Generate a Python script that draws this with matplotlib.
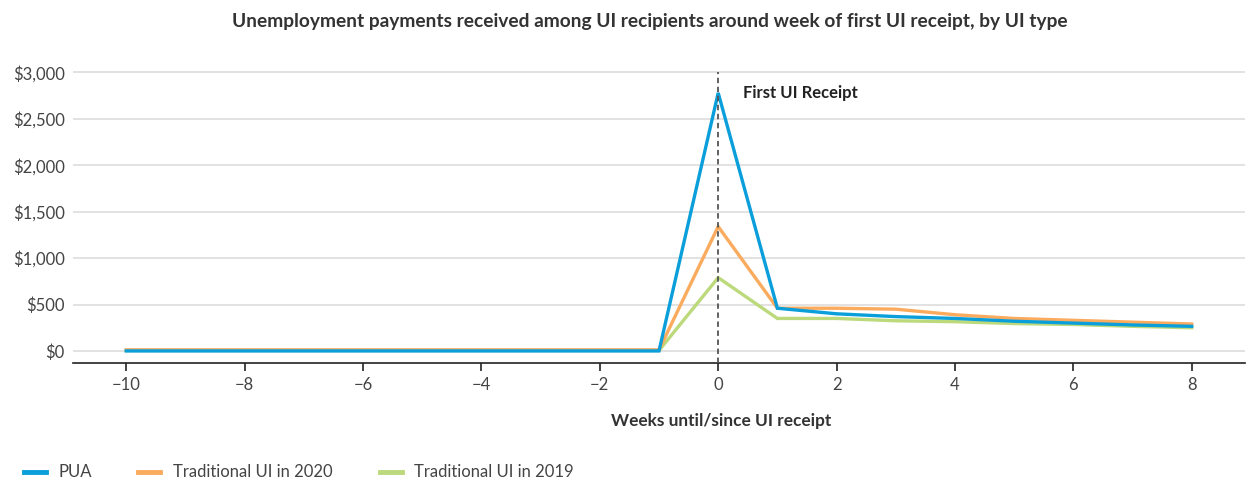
import numpy as np
import matplotlib
matplotlib.use('Agg')
import matplotlib.pyplot as plt
from matplotlib.lines import Line2D

plt.rcParams['font.family'] = ['Lato', 'DejaVu Sans']

# data
weeks = list(range(-10, 9))
pua = [0, 0, 0, 0, 0, 0, 0, 0, 0, 0, 2780, 460, 400, 370, 350, 320, 300, 280, 265]
trad_2020 = [12, 12, 12, 12, 12, 12, 12, 12, 12, 12, 1340, 460, 460, 450, 390, 350, 330, 310, 290]
trad_2019 = [5, 5, 5, 5, 5, 5, 5, 5, 5, 5, 790, 350, 350, 325, 315, 295, 285, 265, 250]
series_names = ['PUA', 'Traditional UI in 2020', 'Traditional UI in 2019']
colors = ['#0a9fda', '#fbab5e', '#bcd97c']
yticks = [0, 500, 1000, 1500, 2000, 2500, 3000]
xticks = list(range(-10, 9, 2))

fig = plt.figure(figsize=(12.48, 4.83), dpi=100)
ax = fig.add_axes([73 / 1248, 1 - 363 / 483, (1245 - 73) / 1248, (363 - 66) / 483])

# PUA drawn last so it sits on top
for vals, c in zip([trad_2019, trad_2020, pua], [colors[2], colors[1], colors[0]]):
    ax.plot(weeks, vals, color=c, linewidth=2.4, solid_joinstyle='miter', zorder=3)

ax.axvline(0, color='#555555', linestyle=(0, (3, 2)), linewidth=1.3, ymax=(3000 + 130) / (3070 + 130), zorder=4)
ax.text(0.42, 2775, 'First UI Receipt', fontsize=12, fontweight='bold', color='#222222', va='center')

ax.set_xlim(-10.9, 8.9)
ax.set_ylim(-130, 3070)
ax.set_yticks(yticks)
ax.set_yticklabels(['${:,}'.format(v) for v in yticks])
ax.set_xticks(xticks)
ax.set_xticklabels([str(x).replace('-', '\u2212') for x in xticks])
ax.grid(axis='y', color='#dddddd', linewidth=1.2)
ax.set_axisbelow(True)
for s in ['top', 'right', 'left']:
    ax.spines[s].set_visible(False)
ax.spines['bottom'].set_color('#222222')
ax.spines['bottom'].set_linewidth(1.2)
ax.tick_params(axis='y', length=0, pad=6, labelsize=12, labelcolor='#444444')
ax.tick_params(axis='x', length=6, width=1.2, color='#222222', pad=4, labelsize=12, labelcolor='#444444')

fig.text(650 / 1248, 1 - 22 / 483, 'Unemployment payments received among UI recipients around week of first UI receipt, by UI type',
         ha='center', va='center', fontsize=13.8, fontweight='bold', color='#333333')
fig.text(721 / 1248, 1 - 421 / 483, 'Weeks until/since UI receipt', ha='center', va='center',
         fontsize=12.4, fontweight='bold', color='#333333')

# legend along the bottom edge
leg_handles = [24, 138, 380]
leg_texts = [58, 173, 414]
for hx, tx, c, name in zip(leg_handles, leg_texts, colors, series_names):
    fig.add_artist(Line2D([hx / 1248, (hx + 22) / 1248], [1 - 472 / 483] * 2, color=c, linewidth=3.5,
                          transform=fig.transFigure))
    fig.text(tx / 1248, 1 - 472 / 483, name, ha='left', va='center', fontsize=12, color='#444444')

fig.savefig('out.png', dpi=100)
